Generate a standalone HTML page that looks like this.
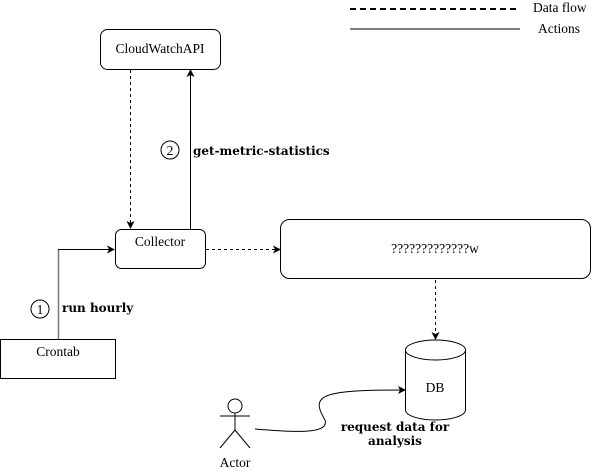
<!DOCTYPE html>
<html><head><style>body{margin:0;background:#fff}svg{display:block}text{font-family:"DejaVu Serif","Liberation Serif",serif;font-size:12px;fill:#000}text.n{font-family:"Liberation Serif",serif;font-size:13.5px}</style></head>
<body>
<svg width="596" height="471" viewBox="0 0 596 471" xmlns="http://www.w3.org/2000/svg">
<defs><marker id="a" markerWidth="8" markerHeight="8" refX="7" refY="4" orient="auto" markerUnits="userSpaceOnUse"><path d="M0,0 L8,4 L0,8 L2,4 Z" fill="#000"/></marker></defs>
<line x1="350" y1="9" x2="520" y2="9" stroke="#000" stroke-width="2" stroke-dasharray="6,4"/>
<text class="n" x="533" y="12">Data flow</text>
<line x1="350" y1="29" x2="520" y2="29" stroke="#000"/>
<text class="n" x="538" y="33">Actions</text>
<rect x="100.5" y="29.5" width="120" height="40" rx="7" fill="#fff" stroke="#000"/>
<text class="n" x="160" y="53" text-anchor="middle">CloudWatchAPI</text>
<line x1="130.5" y1="70" x2="130.5" y2="228" stroke="#000" stroke-dasharray="3,3" marker-end="url(#a)"/>
<line x1="190.5" y1="229" x2="190.5" y2="70" stroke="#000" marker-end="url(#a)"/>
<circle cx="170" cy="150" r="9" fill="#fff" stroke="#000"/>
<text class="n" x="170" y="155" text-anchor="middle">2</text>
<text x="193" y="155" font-weight="bold" font-size="11.8">get-metric-statistics</text>
<rect x="115.5" y="229.5" width="90" height="39" rx="6" fill="#fff" stroke="#000"/>
<text class="n" x="160" y="246" text-anchor="middle">Collector</text>
<line x1="206" y1="249.5" x2="280" y2="249.5" stroke="#000" stroke-dasharray="3,3" marker-end="url(#a)"/>
<rect x="280.5" y="219.5" width="310" height="59" rx="9" fill="#fff" stroke="#000"/>
<text class="n" x="435" y="253" text-anchor="middle">?????????????w</text>
<line x1="435.5" y1="280" x2="435.5" y2="339" stroke="#000" stroke-dasharray="3,3" marker-end="url(#a)"/>
<path d="M405.5,350 A30,10 0 0 1 465.5,350 L465.5,410 A30,10 0 0 1 405.5,410 Z" fill="#fff" stroke="#000"/>
<path d="M405.5,350 A30,10 0 0 0 465.5,350" fill="none" stroke="#000"/>
<text class="n" x="435" y="392" text-anchor="middle">DB</text>
<rect x="0.5" y="339.5" width="115" height="39" fill="#fff" stroke="#000"/>
<text class="n" x="58" y="356" text-anchor="middle">Crontab</text>
<line x1="58.5" y1="339" x2="58.5" y2="249.5" stroke="#777" stroke-width="1.5"/>
<line x1="58" y1="249.5" x2="114" y2="249.5" stroke="#000" marker-end="url(#a)"/>
<circle cx="40" cy="309" r="9" fill="#fff" stroke="#000"/>
<text class="n" x="40" y="314" text-anchor="middle">1</text>
<text x="62" y="312" font-weight="bold" font-size="10.3">run hourly</text>
<circle cx="235" cy="406" r="7" fill="#fff" stroke="#000"/>
<path d="M235,413 V430 M220,416 H250 M235,430 L220,448 M235,430 L250,448" stroke="#000" fill="none"/>
<text class="n" x="235" y="467" text-anchor="middle">Actor</text>
<path d="M255,429 C290,432 330,435 325,420 C310,395 320,390 405,390" fill="none" stroke="#000" marker-end="url(#a)"/>
<text x="395" y="431" text-anchor="middle" font-weight="bold" font-size="10.3">request data for</text>
<text x="395" y="445" text-anchor="middle" font-weight="bold" font-size="10.3">analysis</text>
</svg>
</body></html>
